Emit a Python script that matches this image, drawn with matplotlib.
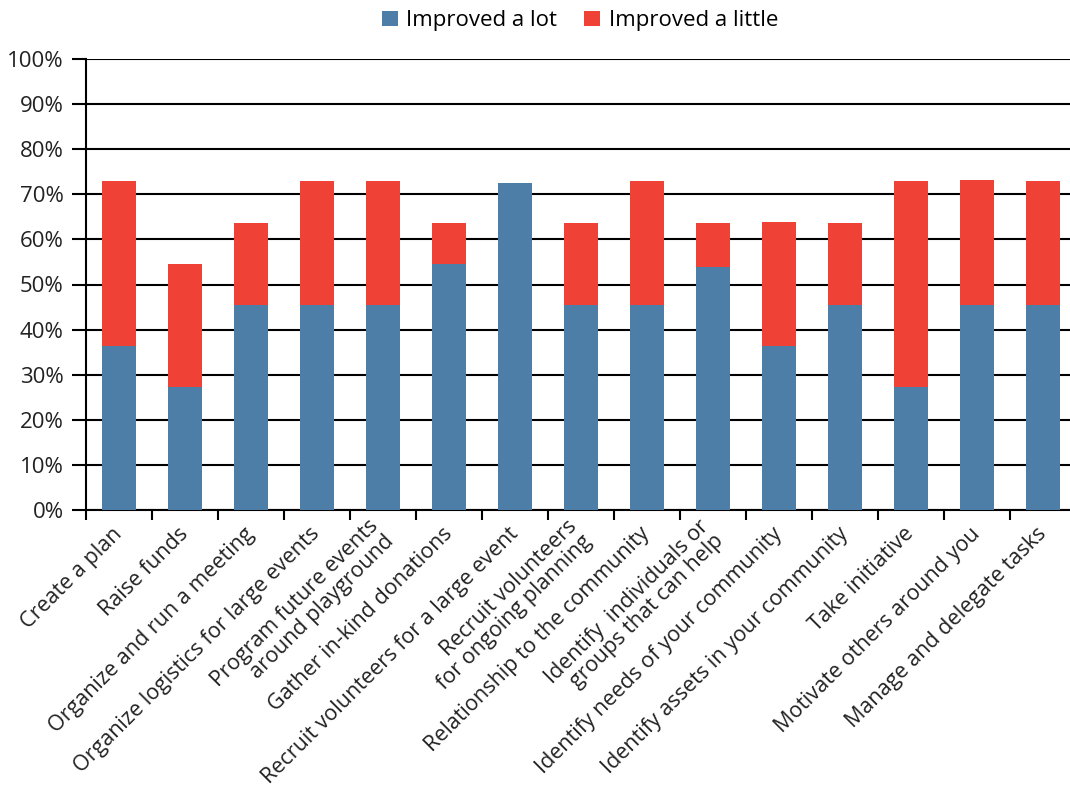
import matplotlib
matplotlib.use("Agg")
import matplotlib.pyplot as plt
import numpy as np
from matplotlib.ticker import FixedLocator, PercentFormatter

plt.rcParams['font.family'] = ['Open Sans', 'DejaVu Sans']

categories = [
    "Create a plan",
    "Raise funds",
    "Organize and run a meeting",
    "Organize logistics for large events",
    "Program future events\naround playground",
    "Gather in-kind donations",
    "Recruit volunteers for a large event",
    "Recruit volunteers\nfor ongoing planning",
    "Relationship to the community",
    "Identify  individuals or\ngroups that can help",
    "Identify needs of your community",
    "Identify assets in your community",
    "Take initiative",
    "Motivate others around you",
    "Manage and delegate tasks",
]

improved_a_lot = [36.4, 27.3, 45.5, 45.5, 45.5, 54.6, 72.5, 45.5, 45.5, 53.8,
                  36.4, 45.5, 27.3, 45.5, 45.5]
improved_a_little = [36.5, 27.2, 18.2, 27.4, 27.4, 9.0, 0.0, 18.2, 27.4, 9.8,
                     27.5, 18.2, 45.6, 27.7, 27.4]

series_names = ["Improved a lot", "Improved a little"]
colors = ["#4d7ea8", "#ef4136"]

fig = plt.figure(figsize=(10.70, 7.92), dpi=100)
ax = fig.add_axes([86 / 1070, (792 - 510) / 792, 990 / 1070, 451 / 792])

x = np.arange(len(categories))
ax.bar(x, improved_a_lot, width=0.52, color=colors[0], label=series_names[0], zorder=3)
ax.bar(x, improved_a_little, width=0.52, bottom=improved_a_lot, color=colors[1],
       label=series_names[1], zorder=3)

ax.set_xlim(-0.5, len(categories) - 0.5)
ax.set_ylim(0, 100)
ax.set_yticks(np.arange(0, 101, 10))
ax.yaxis.set_major_formatter(PercentFormatter(decimals=0))
ax.grid(axis='y', color='black', linewidth=1.5, zorder=0)
ax.set_axisbelow(True)

for s in ['top', 'right']:
    ax.spines[s].set_visible(False)
for s in ['left', 'bottom']:
    ax.spines[s].set_linewidth(1.5)
    ax.spines[s].set_color('black')

ax.tick_params(axis='y', length=10, width=1.5, labelsize=16, pad=6,
               labelcolor='#222222')

# category boundaries carry the ticks; labels sit under the bar centers
ax.set_xticks(x)
ax.set_xticklabels(categories, rotation=45, ha='right', va='center',
                   rotation_mode='anchor', fontsize=15.5, multialignment='right',
                   linespacing=1.0, color='#222222')
ax.tick_params(axis='x', which='major', length=0, pad=15)
ax.xaxis.set_minor_locator(FixedLocator(np.arange(-0.5, len(categories), 1.0)))
ax.tick_params(axis='x', which='minor', length=7, width=1.5)

fig.legend(loc='upper center', bbox_to_anchor=(0.542, 1.012), ncol=2, frameon=False,
           fontsize=16, handlelength=0.7, handleheight=0.7, handletextpad=0.4,
           columnspacing=1.2)

fig.savefig("out.png", dpi=100)
